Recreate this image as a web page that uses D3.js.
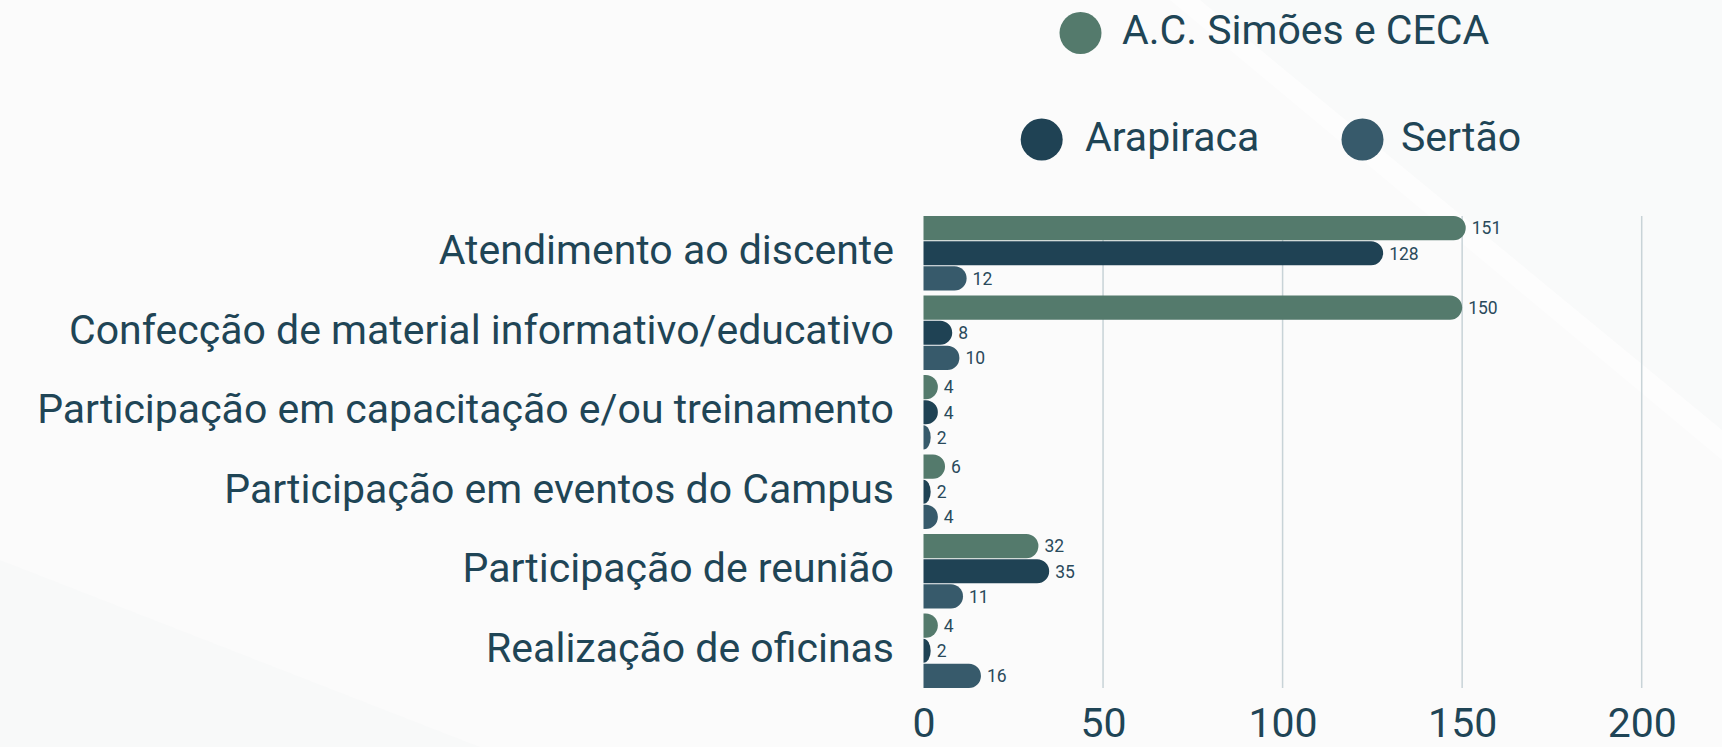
<!DOCTYPE html>
<html>
<head>
<meta charset="utf-8">
<script src="https://cdn.jsdelivr.net/npm/d3@7/dist/d3.min.js"></script>
<style>
  html, body { margin: 0; padding: 0; background: #f9fafa; }
  svg { display: block; font-family: Roboto, "Noto Sans", sans-serif; }
</style>
</head>
<body>
<svg id="chart" width="1722" height="747"></svg>
<script>
// Activities per campus
const categories = [
  "Atendimento ao discente",
  "Confecção de material informativo/educativo",
  "Participação em capacitação e/ou treinamento",
  "Participação em eventos do Campus",
  "Participação de reunião",
  "Realização de oficinas"
];
const seriesNames = ["A.C. Simões e CECA", "Arapiraca", "Sertão"];
const acSimoes = [151, 150, 4, 6, 32, 4];
const arapiraca = [128, 8, 4, 2, 35, 2];
const sertao = [12, 10, 2, 4, 11, 16];
const tickValues = [0, 50, 100, 150, 200];

const seriesValues = [acSimoes, arapiraca, sertao];
const colors = ["#547a6c", "#1f4254", "#375a6b"];
const textColor = "#1f4556";

const svg = d3.select("#chart");

// soft background shapes
const bg = svg.append("g");
bg.append("rect").attr("width", 1722).attr("height", 747).attr("fill", "#f9fafa");
bg.append("path")
  .attr("d", "M0,0 H1200 L1722,430 V747 H0 Z")
  .attr("fill", "#fbfbfb");
bg.append("path")
  .attr("d", "M1200,0 L1722,430 V460 L1170,0 Z")
  .attr("fill", "#ffffff").attr("opacity", 0.5);
bg.append("path")
  .attr("d", "M0,560 L480,747 H0 Z")
  .attr("fill", "#f8f9f9");

const x = d3.scaleLinear().domain([0, 200]).range([923.5, 1641.7]);
const y0 = d3.scaleBand().domain(categories).range([213.5, 690.5]);
const y1 = d3.scaleBand().domain(seriesNames).range([0, y0.bandwidth()])
  .paddingInner(0.04).paddingOuter(0.1);

const gridTop = y0.range()[0] + 2.5;
const gridBottom = y0.range()[1] - 2.5;

// vertical grid lines
svg.append("g")
  .selectAll("line")
  .data(tickValues.filter(t => t > 0))
  .join("line")
  .attr("x1", d => x(d)).attr("x2", d => x(d))
  .attr("y1", gridTop).attr("y2", gridBottom)
  .attr("stroke", "#c8d3d7").attr("stroke-width", 1.5);

// x axis tick labels
const xAxis = d3.axisBottom(x).tickValues(tickValues).tickSize(0).tickPadding(0);
const axisG = svg.append("g").attr("transform", `translate(0, 737)`).call(xAxis);
axisG.select(".domain").remove();
axisG.selectAll("text")
  .attr("y", 0).attr("dy", 0)
  .attr("fill", textColor)
  .style("font-size", "41px")
  .style("font-family", "Roboto, sans-serif");

// bars with rounded right ends
function barPath(x0, top, w, h) {
  const ry = h / 2;
  const rx = Math.min(ry, w);
  return `M${x0},${top} H${x0 + w - rx} A${rx},${ry} 0 0 1 ${x0 + w},${top + ry}` +
         ` A${rx},${ry} 0 0 1 ${x0 + w - rx},${top + h} H${x0} Z`;
}

const rows = categories.map((c, i) => ({
  cat: c,
  items: seriesNames.map((s, j) => ({ s, j, v: seriesValues[j][i] }))
}));

const groups = svg.append("g")
  .selectAll("g")
  .data(rows)
  .join("g")
  .attr("transform", d => `translate(0, ${y0(d.cat)})`);

groups.selectAll("path")
  .data(d => d.items)
  .join("path")
  .attr("d", d => barPath(x(0), y1(d.s), x(d.v) - x(0), y1.bandwidth()))
  .attr("fill", d => colors[d.j]);

groups.selectAll("text.val")
  .data(d => d.items)
  .join("text")
  .attr("class", "val")
  .attr("x", d => x(d.v) + 6)
  .attr("y", d => y1(d.s) + y1.bandwidth() / 2)
  .attr("dy", "0.36em")
  .attr("fill", "#2a4a5b")
  .style("font-size", "17.5px")
  .text(d => d.v);

// category labels
svg.append("g")
  .selectAll("text")
  .data(categories)
  .join("text")
  .attr("x", 894)
  .attr("y", d => y0(d) + y1(seriesNames[1]) + y1.bandwidth() / 2)
  .attr("dy", "0.27em")
  .attr("text-anchor", "end")
  .attr("fill", textColor)
  .style("font-size", "41px")
  .text(d => d);

// legend
const legendPos = [
  { cx: 1080.5, cy: 33, tx: 1122 },
  { cx: 1041.7, cy: 139.5, tx: 1085 },
  { cx: 1362.5, cy: 139.5, tx: 1401 }
];
const legend = svg.append("g")
  .selectAll("g")
  .data(seriesNames)
  .join("g");
legend.append("circle")
  .attr("cx", (d, i) => legendPos[i].cx)
  .attr("cy", (d, i) => legendPos[i].cy)
  .attr("r", 21)
  .attr("fill", (d, i) => colors[i]);
legend.append("text")
  .attr("x", (d, i) => legendPos[i].tx)
  .attr("y", (d, i) => legendPos[i].cy)
  .attr("dy", "0.28em")
  .attr("fill", textColor)
  .style("font-size", "41px")
  .text(d => d);
</script>
</body>
</html>
